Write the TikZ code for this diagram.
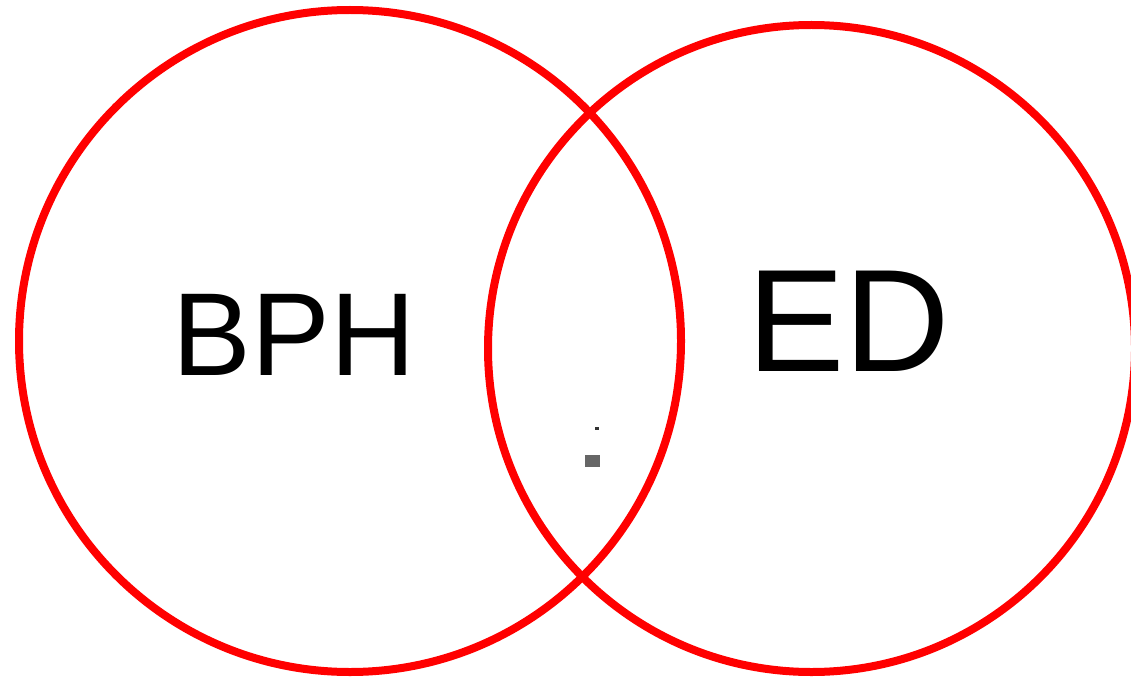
\documentclass[tikz,border=0pt]{standalone}
\usepackage{fontspec}
\setmainfont{Liberation Sans}
\begin{document}
\begin{tikzpicture}[x=1pt,y=-1pt,
  ring/.style={draw=red,line width=8pt},
  lbl/.style={inner sep=0pt,anchor=center}]
\useasboundingbox (0,0) rectangle (1131,679);
\begin{scope}
\clip (0,0) rectangle (1131,679);
\draw[ring] (350,341) circle[radius=331];
\draw[ring] (811.5,348.5) circle[radius=323.5];
\end{scope}
\node[lbl] (bph) at (294,334.5) {\fontsize{118}{118}\selectfont BPH};
\node[lbl] (ed) at (849,321) {\fontsize{146}{146}\selectfont ED};
\fill[black!80] (595,427) rectangle (599,430);
\fill[black!60] (585,455) rectangle (600,467);
\end{tikzpicture}
\end{document}
